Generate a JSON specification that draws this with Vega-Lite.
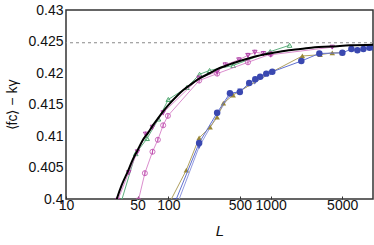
{
  "$schema": "https://vega.github.io/schema/vega-lite/v6.json",
  "width": 307,
  "height": 189,
  "autosize": {"type": "none"},
  "padding": {"left": 66, "top": 10, "right": 1, "bottom": 46},
  "config": {
    "view": {"stroke": "#333", "strokeWidth": 1.5},
    "font": "Liberation Sans",
    "axis": {"domain": false, "grid": false, "labelFont": "Liberation Sans", "labelFontSize": 14, "labelColor": "#111", "titleFont": "Liberation Sans", "titleFontWeight": "normal", "titleColor": "#111", "labelOverlap": false, "labelBound": false, "labelFlush": false}
  },
  "datasets": {
    "fit": [
      {"L": 28, "v": 0.3975}, {"L": 31.3, "v": 0.4}, {"L": 35, "v": 0.4022}, {"L": 40.5, "v": 0.4045}, {"L": 45, "v": 0.4063},
      {"L": 50.6, "v": 0.4079}, {"L": 56, "v": 0.4093}, {"L": 63.4, "v": 0.4105}, {"L": 70, "v": 0.4116}, {"L": 77.6, "v": 0.4126},
      {"L": 89, "v": 0.4139}, {"L": 100, "v": 0.4149}, {"L": 122, "v": 0.4164}, {"L": 140, "v": 0.4173}, {"L": 163, "v": 0.4181},
      {"L": 200, "v": 0.4191}, {"L": 256, "v": 0.42}, {"L": 300, "v": 0.4206}, {"L": 403, "v": 0.4214}, {"L": 550, "v": 0.4221},
      {"L": 740, "v": 0.4227}, {"L": 1060, "v": 0.4232}, {"L": 1500, "v": 0.4236}, {"L": 1950, "v": 0.4238}, {"L": 2700, "v": 0.4241},
      {"L": 3830, "v": 0.4242}, {"L": 6000, "v": 0.4244}, {"L": 10000, "v": 0.4245}
    ],
    "magTri": [
      {"L": 32, "v": 0.3998, "lo": 0.3994, "hi": 0.4002}, {"L": 41, "v": 0.4042, "lo": 0.4038, "hi": 0.4046},
      {"L": 50, "v": 0.4075, "lo": 0.4071, "hi": 0.4079}, {"L": 60, "v": 0.4103, "lo": 0.4099, "hi": 0.4107},
      {"L": 70, "v": 0.4114, "lo": 0.411, "hi": 0.4118}, {"L": 89, "v": 0.4137, "lo": 0.4133, "hi": 0.4141},
      {"L": 200, "v": 0.4192, "lo": 0.4188, "hi": 0.4196}, {"L": 300, "v": 0.4202, "lo": 0.4198, "hi": 0.4206},
      {"L": 360, "v": 0.4213, "lo": 0.4209, "hi": 0.4217}, {"L": 490, "v": 0.4221, "lo": 0.4217, "hi": 0.4225},
      {"L": 600, "v": 0.4228, "lo": 0.4224, "hi": 0.4232}, {"L": 700, "v": 0.4233, "lo": 0.4229, "hi": 0.4237},
      {"L": 850, "v": 0.4231, "lo": 0.4227, "hi": 0.4235}, {"L": 1000, "v": 0.4229, "lo": 0.4225, "hi": 0.4233},
      {"L": 4000, "v": 0.4241, "lo": 0.4238, "hi": 0.4244}
    ],
    "magCirc": [
      {"L": 51, "v": 0.3998, "lo": 0.3994, "hi": 0.4002}, {"L": 59, "v": 0.4041, "lo": 0.4037, "hi": 0.4045},
      {"L": 70, "v": 0.4075, "lo": 0.4071, "hi": 0.4079}, {"L": 79, "v": 0.4094, "lo": 0.409, "hi": 0.4098},
      {"L": 89, "v": 0.4117, "lo": 0.4113, "hi": 0.4121}, {"L": 99, "v": 0.4132, "lo": 0.4128, "hi": 0.4136},
      {"L": 200, "v": 0.4188, "lo": 0.4184, "hi": 0.4192}, {"L": 300, "v": 0.4199, "lo": 0.4195, "hi": 0.4203},
      {"L": 600, "v": 0.4217, "lo": 0.4213, "hi": 0.4221}, {"L": 1000, "v": 0.423, "lo": 0.4226, "hi": 0.4234}
    ],
    "green": [
      {"L": 35, "v": 0.3998}, {"L": 48, "v": 0.4072}, {"L": 62, "v": 0.4096}, {"L": 80, "v": 0.4127},
      {"L": 100, "v": 0.4158}, {"L": 152, "v": 0.4177}, {"L": 202, "v": 0.4198}, {"L": 253, "v": 0.4204},
      {"L": 430, "v": 0.4212}, {"L": 990, "v": 0.4234}, {"L": 1530, "v": 0.4244}
    ],
    "blueCirc": [
      {"L": 117, "v": 0.3996}, {"L": 200, "v": 0.4089}, {"L": 300, "v": 0.4137}, {"L": 400, "v": 0.4168},
      {"L": 500, "v": 0.417}, {"L": 617, "v": 0.4184}, {"L": 707, "v": 0.419}, {"L": 790, "v": 0.4194},
      {"L": 906, "v": 0.4199}, {"L": 1037, "v": 0.4202}, {"L": 1993, "v": 0.4219}, {"L": 2990, "v": 0.4231},
      {"L": 5020, "v": 0.4232}, {"L": 6150, "v": 0.4238}, {"L": 7040, "v": 0.4236}, {"L": 8060, "v": 0.4238},
      {"L": 9240, "v": 0.424}, {"L": 10100, "v": 0.4241}
    ],
    "olive": [
      {"L": 104, "v": 0.3996}, {"L": 150, "v": 0.4046}, {"L": 200, "v": 0.4097}, {"L": 256, "v": 0.4114},
      {"L": 300, "v": 0.413}, {"L": 345, "v": 0.4152}, {"L": 430, "v": 0.4165}, {"L": 1037, "v": 0.4202},
      {"L": 2040, "v": 0.4227}, {"L": 3040, "v": 0.4229}, {"L": 4000, "v": 0.4232}, {"L": 5000, "v": 0.4232}
    ],
    "blueTri": [
      {"L": 125, "v": 0.3996}, {"L": 200, "v": 0.4083}, {"L": 300, "v": 0.4133}, {"L": 400, "v": 0.4165},
      {"L": 500, "v": 0.4172}, {"L": 700, "v": 0.4185}, {"L": 1000, "v": 0.42}
    ],
    "ref": [{"v": 0.4248}]
  },
  "encoding": {
    "x": {"field": "L", "type": "quantitative", "scale": {"type": "log", "domain": [10, 10000]},
      "axis": {"values": [10, 50, 100, 500, 1000, 5000], "format": "d", "tickSize": -3, "tickColor": "#333", "tickWidth": 1, "labelPadding": 2, "title": "L", "titleFontStyle": "italic", "titleFontSize": 15, "titlePadding": 11}},
    "y": {"field": "v", "type": "quantitative", "scale": {"domain": [0.4, 0.43], "nice": false, "zero": false},
      "axis": {"values": [0.4, 0.405, 0.41, 0.415, 0.42, 0.425, 0.43], "format": "~g", "ticks": false, "labelPadding": 3, "title": "⟨fc⟩ − kγ", "titleFontSize": 14, "titlePadding": 8}}
  },
  "layer": [
    {"data": {"name": "ref"}, "mark": {"type": "rule", "color": "#888", "strokeDash": [3, 3], "strokeWidth": 1}, "encoding": {"x": null, "y": {"field": "v", "type": "quantitative"}}},
    {"data": {"name": "blueTri"}, "mark": {"type": "line", "color": "#9098e0", "strokeWidth": 1, "clip": true}},
    {"data": {"name": "blueTri"}, "mark": {"type": "point", "shape": "triangle-down", "filled": true, "color": "#4858c0", "size": 25, "opacity": 1, "clip": true}},
    {"data": {"name": "olive"}, "mark": {"type": "line", "color": "#b0a060", "strokeWidth": 1, "clip": true}},
    {"data": {"name": "olive"}, "mark": {"type": "point", "shape": "triangle-up", "filled": true, "color": "#9a8838", "size": 30, "opacity": 1, "clip": true}},
    {"data": {"name": "blueCirc"}, "mark": {"type": "line", "color": "#6070d0", "strokeWidth": 1, "clip": true}},
    {"data": {"name": "blueCirc"}, "mark": {"type": "circle", "color": "#3a48b0", "size": 42, "opacity": 1, "clip": true}},
    {"data": {"name": "green"}, "mark": {"type": "line", "color": "#60b080", "strokeWidth": 1, "clip": true}},
    {"data": {"name": "green"}, "mark": {"type": "point", "shape": "triangle-up", "filled": false, "color": "#50a870", "size": 22, "strokeWidth": 1, "opacity": 1, "clip": true}},
    {"data": {"name": "magCirc"}, "mark": {"type": "line", "color": "#d070c0", "strokeWidth": 0.8, "clip": true}},
    {"data": {"name": "magCirc"}, "mark": {"type": "rule", "color": "#c050b0", "strokeWidth": 1, "clip": true}, "encoding": {"y": {"field": "lo", "type": "quantitative"}, "y2": {"field": "hi"}}},
    {"data": {"name": "magCirc"}, "mark": {"type": "point", "shape": "circle", "filled": false, "color": "#c050b0", "size": 26, "strokeWidth": 0.8, "opacity": 1, "clip": true}},
    {"data": {"name": "magTri"}, "mark": {"type": "line", "color": "#d070c0", "strokeWidth": 0.8, "clip": true}},
    {"data": {"name": "magTri"}, "mark": {"type": "rule", "color": "#b040a8", "strokeWidth": 1, "clip": true}, "encoding": {"y": {"field": "lo", "type": "quantitative"}, "y2": {"field": "hi"}}},
    {"data": {"name": "magTri"}, "mark": {"type": "point", "shape": "triangle-down", "filled": false, "color": "#b040a8", "size": 20, "strokeWidth": 1, "opacity": 1, "clip": true}},
    {"data": {"name": "fit"}, "mark": {"type": "line", "color": "#000", "strokeWidth": 2, "interpolate": "monotone", "clip": true}}
  ]
}
